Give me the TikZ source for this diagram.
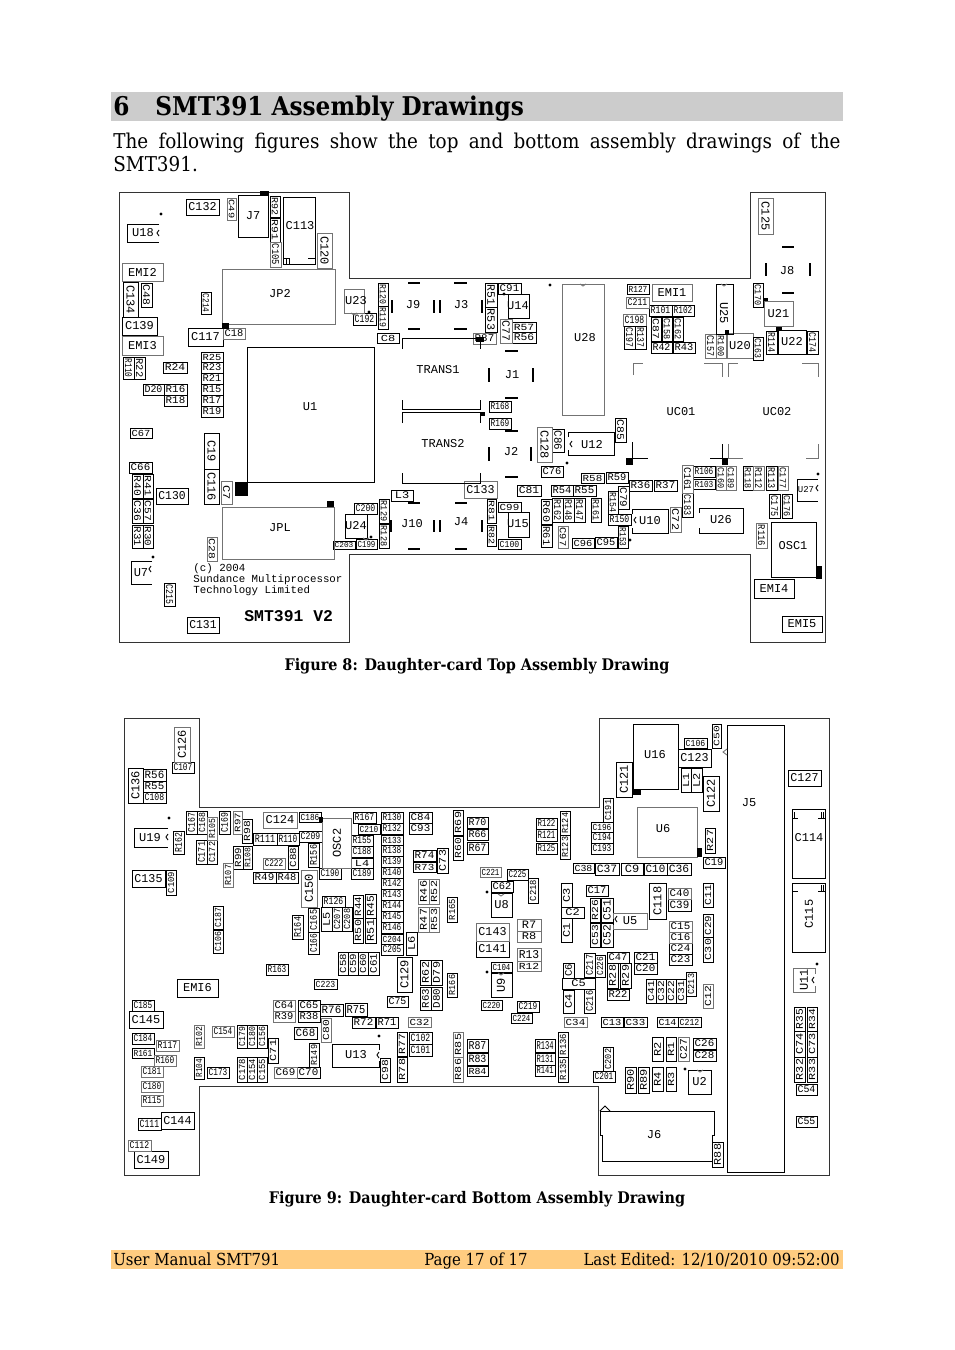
\documentclass[tikz,border=0pt]{standalone}
\usepackage{graphicx}
\usepackage{fontspec}
\setmainfont{DejaVu Serif Condensed}
\newfontfamily\partfont{Liberation Mono}
\usetikzlibrary{arrows.meta}
\definecolor{headgray}{HTML}{CCCCCC}
\definecolor{footorange}{HTML}{FFCC80}
\newsavebox{\partbox}
\newcommand{\parts}[3]{%
  \foreach \xa/\ya/\xb/\yb/\lab in {#3} {
    \pgfinterruptpicture\global\setbox\partbox=\hbox{\partfont\fontsize{6}{6}\selectfont\lab}\endpgfinterruptpicture
    \pgfmathsetmacro{\partlong}{abs(#2)<1 ? abs(\xb-\xa) : abs(\yb-\ya)}
    \pgfmathsetmacro{\partthick}{abs(#2)<1 ? abs(\yb-\ya) : abs(\xb-\xa)}
    \pgfmathsetmacro{\partsx}{min(1,.425*\partlong/\the\wd\partbox)}
    \pgfmathsetmacro{\partsy}{min(1,.31*\partthick/\the\ht\partbox)}
    \draw[#1] (\xa,\ya) rectangle node[rotate=#2,inner sep=0pt] (\lab) {\scalebox{\partsx}[\partsy]{\usebox{\partbox}}} (\xb,\yb);
  }}
\begin{document}
\begin{tikzpicture}[x=.5pt,y=-.5pt,
    bk/.style={draw=black,line width=.45pt},
    gr/.style={draw=black!55,line width=.45pt},
    bar/.style={draw=black,line width=1.1pt},
    blk/.style={fill=black,draw=none},
    word/.style={font=\partfont\fontsize{6}{6}\selectfont,inner sep=0pt}]
  \useasboundingbox (0,0) rectangle (954,1350);
  % page
  \fill[headgray] (111,92) rectangle (843,121);
  \fill[footorange] (111,1250) rectangle (843,1269);
  \node (headnum) [anchor=base west,inner sep=0pt,font=\bfseries\fontsize{12.9}{13}\selectfont] at (113,115) {6};
  \node (headtxt) [anchor=base west,inner sep=0pt,font=\bfseries\fontsize{12.9}{13}\selectfont] at (155,115) {SMT391 Assembly Drawings};
  \node (intro) [anchor=north west,inner sep=0pt,text width=363.5pt,align=justify,font=\fontsize{10.2}{11.5}\selectfont] at (113,133) {The following figures show the top and bottom assembly drawings of the SMT391.};
  \node (fig8) [font=\bfseries\fontsize{8}{9}\selectfont,inner sep=0pt] at (477,666) {Figure 8: Daughter-card Top Assembly Drawing};
  \node (fig9) [font=\bfseries\fontsize{8}{9}\selectfont,inner sep=0pt] at (477,1199) {Figure 9: Daughter-card Bottom Assembly Drawing};
  \node (foot1) [anchor=base west,inner sep=0pt,font=\fontsize{8.3}{9}\selectfont] at (113,1265) {User Manual SMT791};
  \node (foot2) [anchor=base west,inner sep=0pt,font=\fontsize{8.3}{9}\selectfont] at (424,1265) {Page 17 of 17};
  \node (foot3) [anchor=base east,inner sep=0pt,font=\fontsize{8.3}{9}\selectfont] at (840,1265) {Last Edited: 12/10/2010 09:52:00};
  % board outlines
  \draw[gr,draw=black!80] (119,192) -- (349,192) -- (349,278) -- (750,278) -- (750,192) -- (825,192) -- (825,642) -- (750,642) -- (750,554) -- (349,554) -- (349,642) -- (119,642) -- cycle;
  \draw[gr,draw=black!80] (124,718) -- (199,718) -- (199,807) -- (599,807) -- (599,718) -- (829,718) -- (829,1175) -- (598,1175) -- (598,1086) -- (199,1086) -- (199,1175) -- (124,1175) -- cycle;
  % top side, horizontal
  \parts{bk}{0}{186/199/219/215/C132,130/428/152/438/C67,129/462/152/473/C66,156/488/188/504/C130,187/617/219/633/C131,
    122/317/157/335/C139,188/328/223/346/C117,163/362/187/373/R24,143/384/164/395/D20,164/384/187/395/R16,164/395/187/406/R18,
    201/352/223/362/R25,201/362/223/373/R23,201/373/223/384/R21,201/384/223/395/R15,201/395/223/406/R17,201/406/223/417/R19,
    354/503/377/514/C200,333/541/355/549/C203,356/539/377/549/C199,353/313/376/325/C192,377/333/399/343/C8,498/283/521/294/C91,
    512/322/536/332/R57,512/332/536/343/R56,489/401/511/412/R168,489/418/511/429/R169,541/466/563/477/C76,581/473/604/483/R58,606/472/628/483/R59,
    517/485/541/496/C81,551/485/573/496/R54,573/485/596/496/R55,572/538/594/548/C96,595/537/617/548/C95,629/480/652/491/R36,654/480/677/491/R37,
    608/514/631/525/R150,693/466/715/477/R106,693/479/715/489/R103,754/579/794/598/EMI4,782/616/822/632/EMI5,391/490/413/501/L3,498/502/521/512/C99,498/539/521/549/C100,
    627/284/649/294/R127,649/305/672/316/R101,672/305/694/316/R102,651/342/672/353/R42,673/342/695/353/R43}
  \parts{gr}{0}{122/263/163/281/EMI2,122/336/163/355/EMI3,223/328/245/339/C18,464/481/497/498/C133,473/333/496/344/R87,
    626/297/649/308/C211,652/284/692/301/EMI1,623/314/646/326/C198,727/333/753/358/U20,764/301/793/326/U21}
  % top side, vertical
  \parts{bk}{-90}{123/282/138/317/C134,141/283/152/307/C48,270/196/280/217/R92,270/218/280/242/R91,123/357/134/379/R110,134/357/145/379/R22,201/292/211/314/C214,
    204/433/219/469/C19,204/469/219/504/C116,132/474/143/498/R40,143/474/153/498/R41,132/499/143/523/C36,143/499/153/523/C57,132/525/143/548/R31,143/525/153/548/R30,
    164/583/175/606/C215,378/283/388/306/R120,378/306/388/329/R119,485/283/497/307/R51,485/307/497/332/R53,552/429/564/452/C86,
    541/499/552/524/R60,552/498/563/522/R162,563/498/574/522/R148,574/498/585/522/R147,591/498/601/522/R161,541/525/552/547/R61,
    608/491/618/514/R154,618/486/629/509/C79,618/526/628/548/R153,682/493/693/517/C183,743/466/753/490/R118,766/466/777/490/R113,769/494/780/518/C175,782/494/792/518/C176,
    379/499/389/523/R129,379/524/389/548/R128,487/499/496/523/R81,487/525/496/546/R82,753/283/763/307/C170,766/331/777/354/R114,807/331/818/354/C174,753/337/763/360/C163,
    624/326/635/349/C197,635/326/646/349/R137,651/317/661/341/C87,662/317/672/341/C158,673/317/683/341/C162,615/418/626/442/C85}
  \parts{gr}{-90}{227/198/236/220/C49,270/242/281/267/C105,317/233/332/268/C120,221/481/232/504/C7,207/537/217/561/C28,500/319/512/343/C77,537/427/552/462/C128,558/526/568/548/C97,
    670/507/681/532/C72,682/465/693/493/C161,716/466/726/490/C160,726/466/736/490/C189,753/466/764/490/R112,778/466/788/490/C177,756/523/767/548/R116,758/198/773/234/C125,
    705/334/716/358/C157,716/334/726/358/R100}
  % bottom side, horizontal
  \parts{bk}{0}{172/762/194/773/C107,143/769/166/781/R56,143/781/166/792/R55,143/792/166/803/C108,253/833/277/845/R111,277/833/299/845/R110,299/831/322/842/C209,299/812/321/822/C186,
    253/872/276/883/R49,276/872/298/883/R48,319/868/341/879/C190,322/896/345/907/R126,132/870/165/887/C135,353/812/376/823/R167,358/824/380/834/C210,351/835/373/846/R155,351/846/373/857/C188,351/858/373/868/L4,351/868/373/879/C189,
    381/812/403/823/R130,381/823/403/834/R132,381/835/403/845/R133,381/845/403/856/R138,381/856/403/867/R139,381/867/403/878/R140,381/878/403/889/R142,381/889/403/900/R143,381/900/403/911/R144,381/911/403/922/R145,381/922/403/933/R146,381/934/403/944/C204,381/944/403/955/C205,
    409/812/432/823/C84,409/823/432/834/C93,413/850/436/861/R74,413/862/436/872/R73,467/817/488/828/R70,467/829/488/840/R66,467/842/488/854/R67,507/869/528/880/C225,491/881/513/892/C62,491/893/512/917/U8,476/941/509/957/C141,
    491/962/512/972/C104,481/1000/502/1010/C220,517/1001/539/1012/C219,511/1013/532/1023/C224,536/818/557/829/R122,536/829/557/841/R121,536/843/557/854/R125,591/822/613/832/C196,591/832/613/843/C194,591/843/613/854/C193,
    573/863/594/873/C38,595/863/619/875/C37,621/863/643/875/C9,644/863/667/875/C10,667/863/691/875/C36,586/885/608/896/C17,561/907/584/918/C2,668/899/691/911/C39,669/943/692/954/C24,669/954/692/965/C23,
    684/738/707/748/C106,678/749/711/767/C123,788/770/821/786/C127,703/857/725/868/C19,607/952/629/963/C47,634/952/657/963/C21,634/963/657/974/C20,607/989/629/1000/R22,601/1017/623/1027/C13,624/1017/647/1027/C33,657/1017/678/1027/C14,678/1017/701/1027/C212,
    693/1038/716/1049/C26,693/1050/716/1061/C28,593/1071/615/1082/C201,688/1070/711/1094/U2,796/1084/817/1095/C54,796/1116/817/1127/C55,562/978/595/989/C5,
    387/996/408/1007/C75,345/1003/367/1016/R75,352/1017/375/1028/R72,376/1017/398/1028/R71,409/1032/432/1044/C102,409/1044/432/1056/C101,467/1039/488/1052/R87,467/1053/488/1065/R83,467/1066/488/1076/R84,535/1039/555/1052/R134,535/1053/555/1065/R131,535/1065/555/1076/R141,
    266/964/288/975/R163,177/979/218/997/EMI6,314/979/337/989/C223,132/1000/154/1011/C185,129/1011/163/1028/C145,132/1033/154/1044/C184,132/1048/154/1058/R161,138/1118/161/1130/C111,161/1112/194/1129/C144,134/1151/168/1168/C149,207/1067/229/1078/C173,
    298/1000/320/1011/C65,298/1011/320/1022/R38,320/1004/343/1016/R76,294/1027/317/1039/C68,297/1067/320/1078/C70}
  \parts{gr}{0}{263/812/297/828/C124,263/858/285/869/C222,480/867/501/877/C221,476/923/509/941/C143,517/919/541/931/R7,517/931/541/942/R8,517/948/541/961/R13,517/961/541/971/R12,
    668/888/691/899/C40,669/921/692/932/C15,669/932/692/943/C16,564/1017/587/1027/C34,408/1017/431/1027/C32,156/1040/179/1051/R117,154/1055/176/1066/R160,141/1066/163/1077/C181,141/1081/163/1092/C180,141/1095/163/1106/R115,128/1140/151/1151/C112,
    212/1026/234/1037/C154,273/1000/295/1011/C64,273/1011/295/1022/R39,274/1067/297/1078/C69}
  % bottom side, vertical
  \parts{bk}{90}{128/768/143/803/C136,173/831/184/854/R162,186/811/197/834/C167,197/811/207/834/C168,196/840/207/864/C171,207/840/217/864/C172,219/811/230/834/C169,242/819/252/843/R98,233/846/243/869/R99,243/846/252/869/R108,
    288/846/298/869/C88,308/843/319/867/R156,321/907/332/931/L5,332/907/342/931/C207,342/907/352/931/C208,292/915/303/939/R164,308/908/319/932/C165,308/932/319/954/C166,353/895/363/918/R44,353/918/363/943/R50,365/894/376/918/R45,365/918/376/943/R51,
    213/906/223/929/C187,213/930/223/953/C106,166/870/176/895/C109,406/932/417/955/L6,437/848/448/873/C73,447/897/457/922/R165,453/810/463/835/R69,453/836/463/860/R60,528/878/538/903/C218,560/811/570/835/R124,560/835/570/859/R123,603/798/613/822/C191,
    561/883/572/907/C3,561/918/572/942/C1,590/898/600/922/R26,590/923/600/947/C53,601/898/613/922/C51,601/923/613/947/C52,649/883/666/919/C118,703/883/713/907/C11,703/914/713/937/C29,703/937/713/962/C30,
    616/762/632/797/C121,712/724/721/748/C50,681/768/691/792/L1,691/768/702/792/L2,703/776/719/811/C122,705/828/715/853/R27,607/963/618/988/R28,620/963/631/988/R29,646/979/656/1003/C41,656/979/666/1003/C32,666/979/676/1003/C22,676/979/686/1003/C31,686/972/696/996/C213,
    652/1067/663/1091/R4,666/1067/676/1091/R3,652/1037/663/1061/R2,666/1037/676/1061/R1,625/1067/636/1093/R90,638/1067/649/1093/R89,603/1047/613/1071/C202,712/1142/723/1167/R88,794/1007/805/1031/R35,807/1007/817/1031/R34,794/1031/805/1057/C74,807/1031/817/1057/C73,794/1057/805/1082/R32,807/1057/817/1082/R33,
    397/957/412/992/C129,348/952/358/975/C59,358/952/368/975/C60,368/952/379/975/C61,338/952/348/975/C58,420/960/431/985/R62,431/960/442/985/D79,420/987/431/1010/R63,431/987/442/1010/D80,447/973/457/997/R166,563/963/574/978/C6,563/990/574/1013/C4,584/953/595/977/C217,584/989/595/1013/C216,595/955/605/977/C226,
    380/1058/390/1082/C98,397/1032/407/1056/R77,397/1057/407/1082/R78,558/1032/568/1057/R136,558/1057/568/1082/R135,
    194/1057/204/1079/R104,237/1025/247/1048/C179,247/1025/257/1048/C180,257/1025/267/1048/C156,237/1057/247/1082/C178,247/1057/257/1082/C154,257/1057/267/1082/C155,268/1038/278/1063/C71,309/1043/319/1067/R149}
  \parts{gr}{90}{174/727/190/762/C126,207/817/217/840/R105,233/811/242/834/R97,223/863/233/887/R107,301/870/317/907/C150,418/879/429/904/R46,429/879/439/904/R52,418/907/429/932/R47,429/907/439/932/R53,
    703/984/713/1008/C12,678/1037/689/1061/C27,453/1032/463/1057/R85,453/1057/463/1082/R86,194/1025/204/1048/R102,321/1018/331/1042/C80}
  % big parts
  \foreach \xa/\ya/\xb/\yb in {247/347/374/482,283/197/315/264,238/195/268/237,345/514/367/538,508/294/529/318,508/512/529/537,771/522/816/577,778/330/806/354,716/284/733/334,633/724/678/789,727/725/784/1172,792/809/825/878,792/883/825/952,491/973/512/997}
    \draw[bk] (\xa,\ya) rectangle (\xb,\yb);
  \foreach \xa/\ya/\xb/\yb in {222/269/335/324,222/507/334/559,562/284/604/415,344/289/364/313,322/818/351/868,637/807/697/857}
    \draw[gr] (\xa,\ya) rectangle (\xb,\yb);
  \foreach \xa/\ya/\rt/\lab in {310/407/0/U1,300/226/0/C113,253/216/0/J7,356/301/0/U23,356/526/0/U24,518/306/0/U14,518/524/0/U15,793/546/0/OSC1,792/342/0/U22,724/313/-90/U25,655/755/0/U16,749/803/0/J5,809/838/0/C114,809/914/90/C115,501/985/90/U9,
    280/294/0/JP2,280/528/0/JPL,585/338/0/U28,663/829/0/U6,337/843/90/OSC2,654/1135/0/J6,413/305/0/J9,461/305/0/J3,512/375/0/J1,511/452/0/J2,412/524/0/J10,461/522/0/J4,787/271/0/J8,438/370/0/TRANS1,443/444/0/TRANS2,681/412/0/UC01,777/412/0/UC02,
    143/233/0/U18,141/573/0/U7,150/838/0/U19,592/445/0/U12,650/521/0/U10,721/520/0/U26,356/1055/0/U13,804/980/90/U11,630/921/0/U5}
    \node (\lab) [word,rotate=\rt] at (\xa,\ya) {\lab};
  \node (U27) [word,scale=.75] at (806,490) {U27};
  % open sided parts
  \draw[bk] (159,224) -| (127,242) -- (159,242);
  \draw[bk] (152,561) -| (131,584) -- (152,584);
  \draw[bk] (818,479) -| (797,501) -- (818,501);
  \draw[bk] (168,828) -| (134,847) -- (168,847);
  \draw[bk] (568,437) |- (614,432) |- (568,455) -- (568,450);
  \draw[bk] (632,514) |- (668,509) |- (632,533) -- (632,528);
  \draw[bk] (699,513) |- (743,508) |- (699,533) -- (699,528);
  \draw[bk] (379,1050) |- (332,1044) |- (379,1067) -- (379,1061);
  \draw[gr] (815,974) |- (793,968) |- (815,992) -- (815,986);
  \draw[gr] (613,919) |- (647,913) |- (613,929) -- (613,925);
  \foreach \xa/\ya in {157/230,149/566,816/485,166/834,570/441,634/517,377/1052,812/977,615/916}
    \draw[bk] (\xa+2,\ya) -- (\xa,\ya+3) -- (\xa+2,\ya+6);
  % notches
  \foreach \xa/\ya in {583/284,724/284,354/313,501/894,501/973,700/1070,366/538}
    \draw[gr] (\xa-3,\ya) -- (\xa,\ya+2) -- (\xa+3,\ya);
  \draw[gr] (727,749) -- (723,752) -- (727,755);
  % transformers and sockets
  \draw[bk] (402,349) |- (480,338) -- (480,349);
  \draw[bk] (402,400) |- (480,409) -- (480,400);
  \draw[bk] (402,423) |- (484,412);
  \draw[bk] (480,412) -- (480,423);
  \draw[bk] (402,473) |- (480,483) -- (480,473);
  \draw[gr] (633,375) |- (643,363);
  \draw[gr] (704,363) -| (722,377);
  \draw[gr] (728,377) |- (738,363);
  \draw[gr] (802,363) -| (818,377);
  \draw[bk] (632,442) |- (648,458);
  \draw[bk] (710,458) -| (722,444);
  \draw[gr] (728,444) |- (743,458);
  \draw[gr] (806,458) -| (818,444);
  % capacitor marks
  \draw[bk] (283,258) -- (290,258) (286,258) -- (286,264) (289,258) -- (289,264) (308,258) -- (315,258);
  \draw[bk] (792,818) -- (798,818) (794,812) -- (794,818) (818,818) -- (825,818) (821,812) -- (821,818) (823,812) -- (823,818);
  \draw[bk] (792,891) -- (798,891) (818,891) -- (825,891) (821,885) -- (821,891) (823,885) -- (823,891);
  % J6
  \draw[bk] (600,1111) -- (714,1111) -- (714,1135) -- (712,1135) -- (712,1161) -- (602,1161) -- (602,1135) -- (600,1135) -- cycle;
  \draw[bk] (600,1111) -- (605,1106) -- (610,1111);
  % thick bars
  \foreach \xa/\ya/\xb/\yb in {408/283/420/283,408/329/420/329,392/300/392/313,434/300/434/313,440/300/440/313,454/283/467/283,454/329/467/329,482/300/482/313,
    505/351/518/351,505/398/518/398,489/368/489/382,533/368/533/382,505/431/518/431,505/477/518/477,489/447/489/461,531/447/531/461,
    408/503/420/503,408/549/420/549,391/520/391/532,434/520/434/532,440/520/440/532,455/503/467/503,455/549/467/549,482/520/482/532,
    782/247/794/247,782/293/794/293,766/263/766/276,810/263/810/276}
    \draw[bar] (\xa,\ya) -- (\xb,\yb);
  % black pads
  \foreach \xa/\ya/\xb/\yb in {260/191/269/195,222/323/229/329,235/482/248/496,327/501/334/507,476/337/484/342,480/412/485/416,626/458/633/465,722/458/728/465,816/566/822/579,764/298/768/301,776/327/782/331,725/330/729/334,319/817/323/822,633/789/641/795,697/848/702/857}
    \fill[blk] (\xa,\ya) rectangle (\xb,\yb);
  \foreach \xa/\ya in {161/214,153/557,504/294,550/285,567/463,630/540,818/474,169/818,487/892,487/972,379/1036,685/1069,817/964,369/312,371/537}
    \fill[blk] (\xa,\ya) circle (1.6);
  % silk text
  \node (year) [anchor=west,inner sep=0pt,font=\partfont\fontsize{5.4}{6}\selectfont] at (193,569) {(c) 2004};
  \node (maker1) [anchor=west,inner sep=0pt,font=\partfont\fontsize{5.4}{6}\selectfont] at (193,580) {Sundance Multiprocessor};
  \node (maker2) [anchor=west,inner sep=0pt,font=\partfont\fontsize{5.4}{6}\selectfont] at (193,591) {Technology Limited};
  \node (board) [anchor=west,inner sep=0pt,font=\partfont\bfseries\fontsize{8.2}{9}\selectfont] at (244,616) {SMT391 V2};
\end{tikzpicture}
\end{document}
